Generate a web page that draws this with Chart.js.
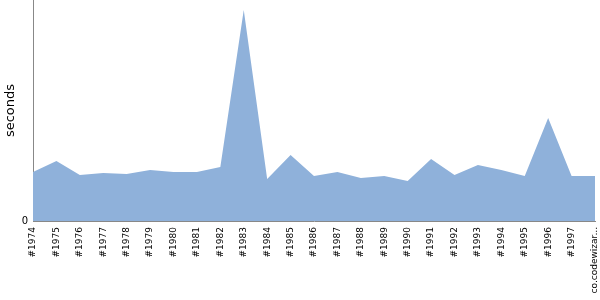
<!DOCTYPE html>
<html>
<head>
<meta charset="utf-8">
<script src="https://cdn.jsdelivr.net/npm/chart.js@4/dist/chart.umd.min.js"></script>
<style>
    html, body { margin: 0; padding: 0; background: #fff; }
    #wrap { width: 600px; height: 300px; position: relative; }
</style>
</head>
<body>
<div id="wrap"><canvas id="chart"></canvas></div>
<script>
// Run labels and timings
const labels = ['#1974', '#1975', '#1976', '#1977', '#1978', '#1979', '#1980', '#1981', '#1982', '#1983',
    '#1984', '#1985', '#1986', '#1987', '#1988', '#1989', '#1990', '#1991', '#1992', '#1993',
    '#1994', '#1995', '#1996', '#1997', 'co.codewizar...'];
const seconds = [49, 60, 46, 48, 47, 51, 49, 49, 54, 211,
    42, 66, 45, 49, 43, 45, 40, 62, 46, 56,
    51, 45, 103, 45, 45];
const yMax = 221;

Chart.defaults.font.family = '"DejaVu Sans", sans-serif';
Chart.defaults.color = '#000';

new Chart(document.getElementById('chart'), {
    type: 'line',
    data: {
        labels: labels,
        datasets: [{
            data: seconds,
            fill: 'origin',
            backgroundColor: '#8fb1da',
            borderWidth: 0,
            pointRadius: 0,
            tension: 0
        }]
    },
    options: {
        responsive: true,
        maintainAspectRatio: false,
        animation: false,
        layout: { padding: { top: 0, right: 5, bottom: 0, left: 0 } },
        plugins: { legend: { display: false }, tooltip: { enabled: false } },
        scales: {
            x: {
                offset: false,
                grid: { display: false, drawTicks: false, tickLength: 0 },
                border: { display: true, color: '#888', width: 1 },
                ticks: {
                    autoSkip: false,
                    minRotation: 90,
                    maxRotation: 90,
                    padding: 6,
                    font: { size: 9 }
                },
                afterFit: scale => {
                    scale.height = 79;
                    scale.paddingLeft = 0;
                    scale.paddingRight = 0;
                }
            },
            y: {
                min: 0,
                max: yMax,
                grid: { display: false, drawTicks: false, tickLength: 0 },
                border: { display: true, color: '#888', width: 1 },
                ticks: {
                    stepSize: yMax,
                    padding: 5,
                    font: { size: 10 },
                    callback: v => v === 0 ? '0' : ''
                },
                title: {
                    display: true,
                    text: 'seconds',
                    font: { size: 13 },
                    padding: { top: 3, bottom: 0 }
                },
                afterFit: scale => {
                    scale.width = 33;
                    scale.paddingTop = 0;
                    scale.paddingBottom = 0;
                }
            }
        }
    }
});
</script>
</body>
</html>
